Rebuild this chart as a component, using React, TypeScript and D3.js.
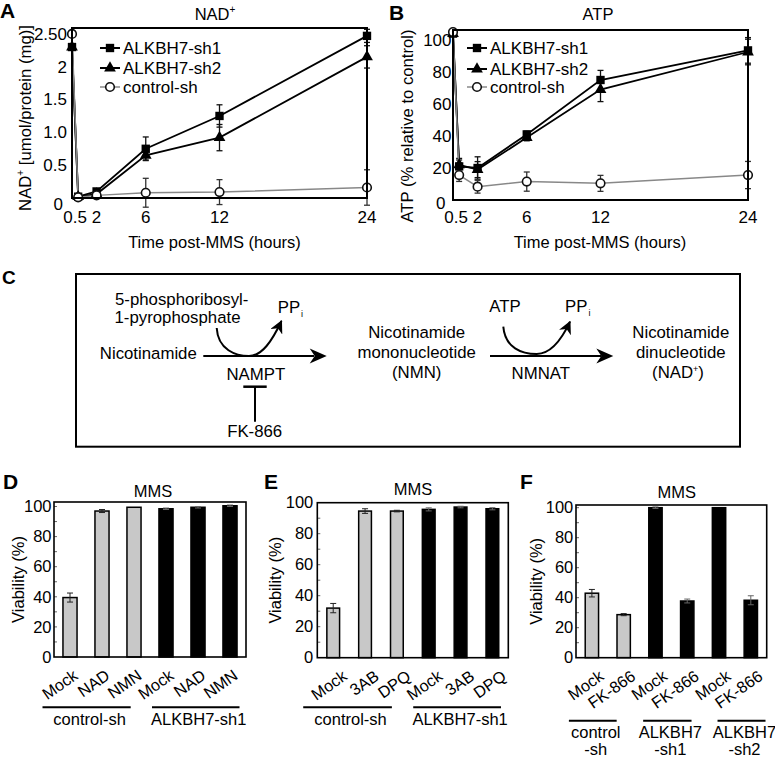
import React from "react";
import * as d3 from "d3";

const FONT = "'Liberation Sans', Arial, Helvetica, sans-serif";

// ---------- Panels A & B (time course) ----------
const hours = [0, 0.5, 2, 6, 12, 24];
const hourTicks = [0.5, 2, 6, 12, 24];
const hourTickLabels = ["0.5", "2", "6", "12", "24"];
const seriesNames = ["ALKBH7-sh1", "ALKBH7-sh2", "control-sh"];

const nadTicks = [0, 0.5, 1, 1.5, 2, 2.5];
const nadTickLabels = ["0", "0.5", "1.0", "1.5", "2", "2.50"];
const nadSh1 = [2.3, 0.02, 0.1, 0.75, 1.25, 2.47];
const nadSh1Err = [0, 0, 0.03, 0.18, 0.17, 0.1];
const nadSh2 = [2.3, 0.02, 0.06, 0.65, 0.92, 2.15];
const nadSh2Err = [0, 0, 0.02, 0.07, 0.2, 0.17];
const nadCtrl = [2.5, 0.01, 0.04, 0.08, 0.09, 0.16];
const nadCtrlErr = [0, 0, 0.02, 0.22, 0.19, 0.27];

const atpTicks = [0, 20, 40, 60, 80, 100];
const atpTickLabels = ["0", "20", "40", "60", "80", "100"];
const atpSh1 = [104, 21, 20, 41, 75, 93.5];
const atpSh1Err = [0, 5, 7, 2, 6, 8];
const atpSh2 = [104, 22, 19, 39, 69, 92.5];
const atpSh2Err = [0, 3, 5, 2, 7.5, 8];
const atpCtrl = [105, 15.6, 8.3, 11.5, 10.4, 15.6];
const atpCtrlErr = [0, 4, 4, 6, 5, 8.5];

// ---------- Panels D, E, F (viability bars) ----------
const viabTicks = [0, 20, 40, 60, 80, 100];

const dLabels = ["Mock", "NAD", "NMN", "Mock", "NAD", "NMN"];
const dValues = [39.5, 97, 99.5, 98.5, 99.5, 100.5];
const dErrors = [3, 1, 0, 0.5, 0.5, 0.5];
const dGroupOf = [0, 0, 0, 1, 1, 1];
const dGroups = [["control-sh"], ["ALKBH7-sh1"]];

const eLabels = ["Mock", "3AB", "DPQ", "Mock", "3AB", "DPQ"];
const eValues = [32, 94.6, 94.6, 95.7, 97.2, 96.1];
const eErrors = [3, 1.5, 0.5, 1, 0.5, 0.7];
const eGroupOf = [0, 0, 0, 1, 1, 1];
const eGroups = [["control-sh"], ["ALKBH7-sh1"]];

const fLabels = ["Mock", "FK-866", "Mock", "FK-866", "Mock", "FK-866"];
const fValues = [43, 28.7, 100, 37.8, 100, 38.3];
const fErrors = [2.5, 0.7, 0.5, 1.3, 0, 3];
const fGroupOf = [0, 0, 1, 1, 2, 2];
const fGroups = [["control", "-sh"], ["ALKBH7", "-sh1"], ["ALKBH7", "-sh2"]];

type Series = { values: number[]; errors: number[]; kind: "square" | "triangle" | "circle"; color: string };

function Marker({ kind, cx, cy }: { kind: string; cx: number; cy: number }) {
  if (kind === "circle") {
    return <circle cx={cx} cy={cy} r={4.3} fill="#fff" stroke="#111" strokeWidth={1.6} />;
  }
  const sym = d3.symbol().type(kind === "square" ? d3.symbolSquare : d3.symbolTriangle).size(kind === "square" ? 70 : 60);
  return <path d={sym() || ""} transform={`translate(${cx},${cy})`} fill="#000" />;
}

function LinePanel(p: any) {
  const x = d3.scaleLinear().domain([0, 24]).range([p.left, p.right]);
  const y = d3.scaleLinear().domain([0, p.yMax]).range([p.bottom, p.top]);
  const line = d3
    .line<number>()
    .x((_, i) => x(hours[i]))
    .y((v) => y(v));
  const series: Series[] = p.series;
  return (
    <g>
      <text x={p.letterX} y={p.letterY} fontSize={21} fontWeight="bold">{p.letter}</text>
      <text x={p.titleX} y={20} fontSize={16.5} textAnchor="middle">{p.title}</text>
      {series.map((s, si) =>
        s.values.map((v, i) =>
          s.errors[i] > 0 ? (
            <g key={`e${si}-${i}`} stroke={si === 2 ? "#333" : "#111"} strokeWidth={1.3}>
              <line x1={x(hours[i])} x2={x(hours[i])} y1={y(v - s.errors[i])} y2={y(v + s.errors[i])} />
              <line x1={x(hours[i]) - 3} x2={x(hours[i]) + 3} y1={y(v - s.errors[i])} y2={y(v - s.errors[i])} />
              <line x1={x(hours[i]) - 3} x2={x(hours[i]) + 3} y1={y(v + s.errors[i])} y2={y(v + s.errors[i])} />
            </g>
          ) : null
        )
      )}
      {series.map((s, si) => (
        <path key={`l${si}`} d={line(s.values) || ""} fill="none" stroke={s.color} strokeWidth={si === 2 ? 1.5 : 1.8} />
      ))}
      {series.map((s, si) =>
        s.values.map((v, i) => <Marker key={`m${si}-${i}`} kind={s.kind} cx={x(hours[i])} cy={y(v)} />)
      )}
      <rect x={p.left} y={p.top} width={p.right - p.left} height={p.bottom - p.top} fill="none" stroke="#000" strokeWidth={2} />
      {p.yTicks.map((t: number, i: number) => (
        <text
          key={`yt${i}`}
          x={p.tickEndX - (t === 0 ? p.zeroDx : 0)}
          y={y(t) + (t === 0 ? p.zeroDy : 0)}
          dy="0.35em"
          fontSize={17}
          textAnchor="end"
        >
          {p.yTickLabels[i]}
        </text>
      ))}
      {hourTicks.map((h, i) => (
        <text key={`xt${i}`} x={x(h) - (h === 0.5 ? 3 : 0)} y={222.5} fontSize={17} textAnchor="middle">
          {hourTickLabels[i]}
        </text>
      ))}
      <text x={p.xTitleX} y={248} fontSize={16.5} textAnchor="middle">Time post-MMS (hours)</text>
      <text transform={`translate(${p.yLabelX},${p.yLabelY}) rotate(-90)`} fontSize={16.7} textAnchor="middle">
        {p.yLabel}
      </text>
      {series.map((s, si) => (
        <g key={`lg${si}`}>
          <line x1={p.legendX} x2={p.legendX + 20} y1={p.legendYs[si]} y2={p.legendYs[si]} stroke={s.color} strokeWidth={si === 2 ? 1.5 : 2} />
          <Marker kind={s.kind} cx={p.legendX + 10} cy={p.legendYs[si]} />
          <text x={p.legendX + 23} y={p.legendYs[si]} dy="0.35em" fontSize={17}>
            {seriesNames[si]}
          </text>
        </g>
      ))}
    </g>
  );
}

function BarPanel(p: any) {
  const n = p.labels.length;
  const x = d3
    .scaleBand<number>()
    .domain(d3.range(n))
    .range([p.left, p.right])
    .paddingInner(p.pad)
    .paddingOuter(p.pad / 2);
  const y = d3.scaleLinear().domain([0, p.yMax]).range([p.bottom, p.top]);
  const bw = x.bandwidth();
  const cx = (i: number) => (x(i) as number) + bw / 2;
  const minor = d3.range(10, p.yMax, 10);
  return (
    <g>
      <text x={p.letterX} y={489} fontSize={21} fontWeight="bold">{p.letter}</text>
      <text x={p.titleX} y={p.titleY} fontSize={16.5} textAnchor="middle">MMS</text>
      {p.values.map((v: number, i: number) => (
        <rect
          key={`b${i}`}
          x={x(i)}
          y={y(v)}
          width={bw}
          height={y(0) - y(v)}
          fill={p.groupOf[i] === 0 ? "#c8c8c8" : "#000"}
          stroke="#000"
          strokeWidth={1.5}
        />
      ))}
      {p.values.map((v: number, i: number) =>
        p.errors[i] > 0 ? (
          <g key={`e${i}`} stroke={p.groupOf[i] === 0 ? "#222" : "#666"} strokeWidth={1}>
            <line x1={cx(i)} x2={cx(i)} y1={y(v - p.errors[i])} y2={y(v + p.errors[i])} />
            <line x1={cx(i) - 3} x2={cx(i) + 3} y1={y(v + p.errors[i])} y2={y(v + p.errors[i])} />
            <line x1={cx(i) - 3} x2={cx(i) + 3} y1={y(v - p.errors[i])} y2={y(v - p.errors[i])} />
          </g>
        ) : null
      )}
      {minor.map((t: number) => (
        <line key={`mt${t}`} x1={p.left} x2={p.left + 3} y1={y(t)} y2={y(t)} stroke="#666" strokeWidth={1} />
      ))}
      <rect x={p.left} y={p.top} width={p.right - p.left} height={p.bottom - p.top} fill="none" stroke="#000" strokeWidth={1.6} />
      {viabTicks.map((t) => (
        <text key={`yt${t}`} x={p.tickEndX} y={y(t)} dy="0.35em" fontSize={16.5} textAnchor="end">
          {t}
        </text>
      ))}
      <text transform={`translate(${p.yLabelX},${(p.top + p.bottom) / 2}) rotate(-90)`} fontSize={16.5} textAnchor="middle">
        Viability (%)
      </text>
      {p.labels.map((l: string, i: number) => (
        <text
          key={`xl${i}`}
          transform={`translate(${cx(i) + p.labelDx},${p.bottom + 21}) rotate(-35)`}
          fontSize={16.3}
          textAnchor="end"
        >
          {l}
        </text>
      ))}
      {p.groups.map((g: string[], gi: number) => {
        const idx = d3.range(n).filter((i) => p.groupOf[i] === gi);
        const x0 = cx(idx[0]) + p.groupLines[gi][0];
        const x1 = cx(idx[idx.length - 1]) + p.groupLines[gi][1];
        const mid = (x0 + x1) / 2 + 3;
        return (
          <g key={`g${gi}`}>
            <line x1={x0} x2={x1} y1={p.groupLineY} y2={p.groupLineY} stroke="#000" strokeWidth={2} />
            {g.map((t, ti) => (
              <text key={ti} x={mid} y={p.groupTextY + ti * 17} fontSize={16.5} textAnchor="middle">
                {t}
              </text>
            ))}
          </g>
        );
      })}
    </g>
  );
}

function PanelC() {
  const arrowHead = (tipX: number, y: number) =>
    `M${tipX},${y} L${tipX - 17},${y - 7.5} L${tipX - 12},${y} L${tipX - 17},${y + 7.5} Z`;
  return (
    <g>
      <defs>
        <marker id="curveHead" viewBox="0 0 12 12" refX="11" refY="6" markerWidth="13" markerHeight="13" markerUnits="userSpaceOnUse" orient="auto">
          <path d="M12,6 L0,0 L3.5,6 L0,12 Z" fill="#000" />
        </marker>
      </defs>
      <text x={2} y={283.5} fontSize={19} fontWeight="bold">C</text>
      <rect x={76} y={274} width={664} height={172.7} fill="none" stroke="#000" strokeWidth={2} />
      <g fontSize={16.8} textAnchor="middle" fill="#000">
        <text x={181.7} y={305}>5-phosphoribosyl-</text>
        <text x={177.5} y={322.7}>1-pyrophosphate</text>
        <text x={148.3} y={359}>Nicotinamide</text>
        <text x={255.8} y={380}>NAMPT</text>
        <text x={254.7} y={436.7}>FK-866</text>
        <text x={416.7} y={338.3}>Nicotinamide</text>
        <text x={416.7} y={358.3}>mononucleotide</text>
        <text x={416.7} y={378.3}>(NMN)</text>
        <text x={505} y={311.7}>ATP</text>
        <text x={540.8} y={379.3}>NMNAT</text>
        <text x={680.8} y={338.3}>Nicotinamide</text>
        <text x={680.8} y={358.3}>dinucleotide</text>
        <text x={678} y={378.3}>
          (NAD<tspan fontSize={9} dy={-6}>+</tspan>
          <tspan dy={6}>)</tspan>
        </text>
      </g>
      <text x={277.7} y={313.3} fontSize={16.8} fill="#000">
        PP<tspan fontSize={9} dy={4} dx={1} fill="#000">i</tspan>
      </text>
      <text x={565} y={311.7} fontSize={16.8} fill="#000">
        PP<tspan fontSize={9} dy={4} dx={1} fill="#000">i</tspan>
      </text>
      <line x1={203.3} x2={314} y1={356} y2={356} stroke="#000" strokeWidth={2} />
      <path d={arrowHead(326.7, 356)} fill="#000" />
      <path d="M216.7,328 C218,350 236,356 249,356 C262,356 272,341 281.5,321" fill="none" stroke="#000" strokeWidth={2} markerEnd="url(#curveHead)" />
      <line x1={255} x2={255} y1={386.7} y2={421.7} stroke="#000" strokeWidth={2} />
      <line x1={243.3} x2={266.7} y1={386.7} y2={386.7} stroke="#000" strokeWidth={2.5} />
      <line x1={490} x2={601} y1={356} y2={356} stroke="#000" strokeWidth={2} />
      <path d={arrowHead(613.3, 356)} fill="#000" />
      <path d="M503.3,326.7 C505,348 522,354 536.7,354 C550,354 561,341 570,321.7" fill="none" stroke="#000" strokeWidth={2} markerEnd="url(#curveHead)" />
    </g>
  );
}

export default function App() {
  const nadSeries: Series[] = [
    { values: nadSh1, errors: nadSh1Err, kind: "square", color: "#000" },
    { values: nadSh2, errors: nadSh2Err, kind: "triangle", color: "#000" },
    { values: nadCtrl, errors: nadCtrlErr, kind: "circle", color: "#888" },
  ];
  const atpSeries: Series[] = [
    { values: atpSh1, errors: atpSh1Err, kind: "square", color: "#000" },
    { values: atpSh2, errors: atpSh2Err, kind: "triangle", color: "#000" },
    { values: atpCtrl, errors: atpCtrlErr, kind: "circle", color: "#888" },
  ];
  return (
    <svg width={775} height={761} style={{ position: "absolute", left: 0, top: 0, background: "#fff" }} fontFamily={FONT}>
      <rect width={775} height={761} fill="#fff" />
      <LinePanel
        left={72} right={367} top={28} bottom={198} yMax={2.59}
        yTicks={nadTicks} yTickLabels={nadTickLabels} tickEndX={67} zeroDx={4} zeroDy={6}
        series={nadSeries} legendX={100} legendYs={[48, 68, 87]}
        letter="A" letterX={0} letterY={18} title={<>NAD<tspan fontSize={10} dy={-7}>+</tspan></>} titleX={215}
        xTitleX={214.5} yLabelX={30.5} yLabelY={118}
        yLabel={<>NAD<tspan fontSize={10} dy={-7}>+</tspan><tspan dy={7}> [umol/protein (mg)]</tspan></>}
      />
      <LinePanel
        left={453} right={748} top={30} bottom={200} yMax={106.25}
        yTicks={atpTicks} yTickLabels={atpTickLabels} tickEndX={451.5} zeroDx={6} zeroDy={3}
        series={atpSeries} legendX={467} legendYs={[48, 69, 87]}
        letter="B" letterX={389} letterY={20} title="ATP" titleX={598}
        xTitleX={600} yLabelX={412.5} yLabelY={126}
        yLabel="ATP (% relative to control)"
      />
      <PanelC />
      <BarPanel
        letter="D" letterX={3} titleX={153} titleY={496.7}
        left={54} right={246} top={502} bottom={657} yMax={103} pad={0.56}
        tickEndX={51.5} yLabelX={23.5} labelDx={9}
        labels={dLabels} values={dValues} errors={dErrors} groupOf={dGroupOf} groups={dGroups}
        groupLines={[[-27.5, -3.3], [-14, 9.5]]} groupLineY={707.3} groupTextY={725}
      />
      <BarPanel
        letter="E" letterX={264} titleX={413} titleY={495}
        left={317.3} right={508.3} top={502.7} bottom={657.7} yMax={100} pad={0.6}
        tickEndX={313.3} yLabelX={281} labelDx={15}
        labels={eLabels} values={eValues} errors={eErrors} groupOf={eGroupOf} groups={eGroups}
        groupLines={[[-30, -5], [-15.5, 8.6]]} groupLineY={707.3} groupTextY={725}
      />
      <BarPanel
        letter="F" letterX={520} titleX={676.7} titleY={498}
        left={576} right={766.7} top={505} bottom={657.7} yMax={101.8} pad={0.58}
        tickEndX={573.3} yLabelX={541.5} labelDx={13}
        labels={fLabels} values={fValues} errors={fErrors} groupOf={fGroupOf} groups={fGroups}
        groupLines={[[-23, -7], [-12.3, 4.3], [-1.5, 14.7]]} groupLineY={720.7} groupTextY={738.3}
      />
    </svg>
  );
}
